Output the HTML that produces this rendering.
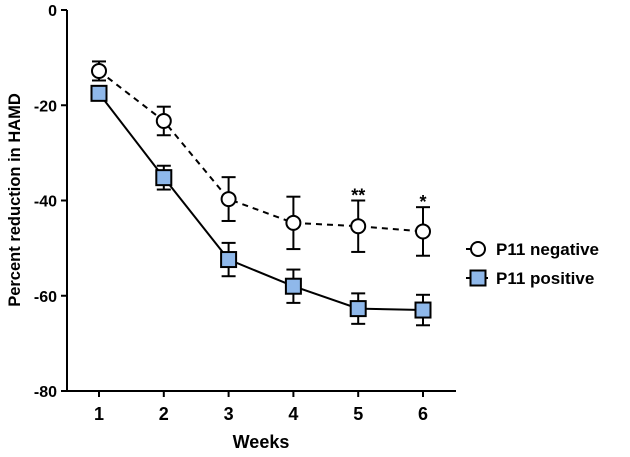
<!DOCTYPE html>
<html><head><meta charset="utf-8"><style>
body{margin:0;background:#fff}
svg text{font-family:"Liberation Sans",Arial,sans-serif;font-weight:bold;fill:#000}
</style></head><body>
<svg id="c" width="630" height="452" viewBox="0 0 630 452"></svg>
<script>
const weeks=[1,2,3,4,5,6];
const negMean=[-12.8,-23.3,-39.7,-44.7,-45.4,-46.5];
const negErr=[2,3,4.6,5.5,5.4,5.1];
const posMean=[-17.5,-35.2,-52.4,-58,-62.7,-63];
const posErr=[1.5,2.5,3.5,3.5,3.2,3.2];
const yTicks=[0,-20,-40,-60,-80];
const sig=['','','','','**','*'];
const svg=document.getElementById('c');const NS='http://www.w3.org/2000/svg';
function X(w){return 99+(w-1)*64.8}
function Y(v){return 10-v*4.7625}
function mk(t,a,p){const e=document.createElementNS(NS,t);for(const k in a)e.setAttribute(k,a[k]);(p||svg).appendChild(e);return e}
let e=mk('line',{x1:67,y1:10,x2:67,y2:391,stroke:'#000','stroke-width':2});

e=mk('line',{x1:66,y1:391,x2:456,y2:391,stroke:'#000','stroke-width':2});

yTicks.forEach(v=>{mk('line',{x1:61,y1:Y(v),x2:67,y2:Y(v),stroke:'#000','stroke-width':2});
const t=mk('text',{x:57,y:Y(v)+6,'text-anchor':'end','font-size':16});t.textContent=v;
});
weeks.forEach(w=>{mk('line',{x1:X(w),y1:391,x2:X(w),y2:397,stroke:'#000','stroke-width':2});
const t=mk('text',{x:X(w),y:420,'text-anchor':'middle','font-size':18});t.textContent=w;
});
e=mk('text',{x:261,y:448,'text-anchor':'middle','font-size':18});e.textContent='Weeks';

e=mk('text',{x:0,y:0,'text-anchor':'middle','font-size':16.5,transform:'translate(20,200) rotate(-90)'});e.textContent='Percent reduction in HAMD';

function series(m,er,dash,name){
 const g=mk('g',{});
 mk('polyline',{points:weeks.map((w,i)=>X(w)+','+Y(m[i])).join(' '),fill:'none',stroke:'#000','stroke-width':2,'stroke-dasharray':dash},g);
 weeks.forEach((w,i)=>{const x=X(w),a=Y(m[i]+er[i]),b=Y(m[i]-er[i]);
  mk('line',{x1:x,y1:a,x2:x,y2:b,stroke:'#000','stroke-width':2},g);
  mk('line',{x1:x-7,y1:a,x2:x+7,y2:a,stroke:'#000','stroke-width':2},g);
  mk('line',{x1:x-7,y1:b,x2:x+7,y2:b,stroke:'#000','stroke-width':2},g);});
 return g;}
const gn=series(negMean,negErr,'6,5','series-p11-negative');
weeks.forEach((w,i)=>{const c=mk('circle',{cx:X(w),cy:Y(negMean[i]),r:7,fill:'#fff',stroke:'#000','stroke-width':2},gn);

if(sig[i]){const t=mk('text',{x:X(w),y:Y(negMean[i]+negErr[i])+1,'text-anchor':'middle','font-size':18});t.textContent=sig[i];
}});
const gp=series(posMean,posErr,'none','series-p11-positive');
weeks.forEach((w,i)=>{const r=mk('rect',{x:X(w)-7.5,y:Y(posMean[i])-7.5,width:15,height:15,fill:'#8fb8ea',stroke:'#000','stroke-width':2},gp);
});
const lg=mk('g',{});
mk('line',{x1:466,y1:249,x2:488,y2:249,stroke:'#000','stroke-width':2,'stroke-dasharray':'6,5'},lg);
mk('circle',{cx:478,cy:249,r:7,fill:'#fff',stroke:'#000','stroke-width':2},lg);
e=mk('text',{x:496,y:255,'font-size':17},lg);e.textContent='P11 negative';

mk('line',{x1:466,y1:278,x2:488,y2:278,stroke:'#000','stroke-width':2},lg);
mk('rect',{x:470.5,y:270.5,width:15,height:15,fill:'#8fb8ea',stroke:'#000','stroke-width':2},lg);
e=mk('text',{x:496,y:284,'font-size':17},lg);e.textContent='P11 positive';

</script>
</body></html>
